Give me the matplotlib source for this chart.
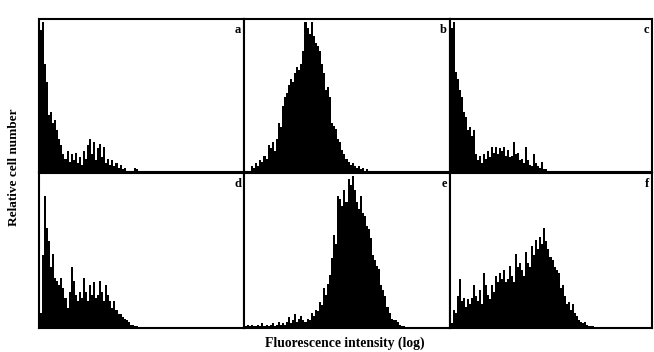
import numpy as np
import matplotlib.pyplot as plt

# relative cell counts per log-fluorescence channel (channel 0 = left edge of panel)
counts_a = [95, 100, 72, 60, 38, 40, 33, 35, 28, 22, 18, 12, 9, 14, 7, 12, 8, 13, 6, 10,
            5, 14, 9, 18, 22, 12, 20, 8, 16, 19, 10, 17, 6, 9, 5, 8, 4, 6, 3, 5,
            2, 3, 1, 1, 0, 1, 3, 2, 1]
counts_b = [0, 0, 1, 4, 3, 6, 4, 8, 7, 11, 9, 18, 16, 20, 14, 22, 33, 30, 44, 50,
            53, 58, 62, 60, 66, 70, 68, 72, 81, 100, 96, 92, 100, 91, 86, 84, 81, 72, 66, 55,
            57, 50, 33, 31, 29, 22, 20, 15, 12, 9, 7, 5, 6, 4, 3, 4, 2, 3, 1, 2,
            1, 1]
counts_c = [96, 100, 67, 62, 55, 50, 40, 37, 28, 30, 24, 28, 12, 8, 11, 6, 12, 9, 14, 10,
            17, 13, 17, 12, 16, 14, 17, 11, 15, 10, 11, 20, 12, 13, 8, 9, 6, 17, 8, 5,
            4, 12, 6, 4, 3, 7, 2, 2, 1]
counts_d = [10, 48, 87, 66, 57, 40, 49, 33, 31, 28, 33, 26, 20, 13, 24, 40, 31, 22, 18, 24,
            20, 33, 24, 18, 28, 22, 30, 20, 22, 31, 24, 18, 28, 22, 18, 13, 18, 12, 9, 9,
            7, 6, 5, 4, 2, 2, 1, 1]
counts_e = [1, 2, 1, 2, 1, 1, 2, 1, 3, 1, 2, 1, 2, 3, 1, 2, 4, 2, 3, 2,
            4, 7, 3, 5, 9, 4, 6, 8, 5, 4, 6, 5, 10, 8, 12, 11, 17, 15, 26, 22,
            29, 35, 46, 61, 55, 87, 85, 80, 91, 83, 98, 94, 100, 91, 83, 78, 87, 76, 74, 67,
            65, 59, 48, 45, 41, 39, 28, 25, 21, 14, 10, 6, 5, 5, 4, 2, 1, 1]
counts_f = [3, 12, 10, 21, 32, 18, 20, 14, 19, 16, 20, 28, 21, 18, 25, 16, 36, 28, 22, 19,
            28, 24, 34, 30, 36, 32, 38, 30, 32, 41, 34, 30, 49, 40, 43, 38, 34, 50, 43, 40,
            54, 48, 58, 52, 60, 55, 66, 57, 52, 47, 45, 40, 38, 36, 26, 28, 21, 16, 17, 12,
            16, 10, 8, 5, 4, 3, 4, 2, 1, 1, 1]

panels = ['a', 'b', 'c', 'd', 'e', 'f']
all_counts = [counts_a, counts_b, counts_c, counts_d, counts_e, counts_f]

fig = plt.figure(figsize=(6.54, 3.52), dpi=100)

lefts = [39 / 654, 244 / 654, 450 / 654]
widths = [205 / 654, 206 / 654, 202 / 654]
bottoms = [1 - 172 / 352, 1 - 328 / 352]
heights = [153 / 352, 155 / 352]

for i, (name, counts) in enumerate(zip(panels, all_counts)):
    row, col = divmod(i, 3)
    ax = fig.add_axes([lefts[col], bottoms[row], widths[col], heights[row]])
    ch = np.arange(len(counts))
    ax.bar(ch, counts, width=1.0, color='black', align='edge', linewidth=0)
    ax.set_xlim(-0.5, 100)
    ax.set_ylim(0, 102)
    ax.set_xticks([])
    ax.set_yticks([])
    for sp in ax.spines.values():
        sp.set_linewidth(1.5)
    ax.text(0.985, 0.97, name, transform=ax.transAxes, ha='right', va='top',
            fontsize=9, fontweight='bold', family='Liberation Serif')

fig.text(0.022, 0.525, 'Relative cell number', rotation=90, ha='center', va='center',
         fontsize=9.5, fontweight='bold', family='Liberation Serif')
fig.text(0.528, 0.026, 'Fluorescence intensity (log)', ha='center', va='center',
         fontsize=9.8, fontweight='bold', family='Liberation Serif')

plt.savefig('out.png', dpi=100)
